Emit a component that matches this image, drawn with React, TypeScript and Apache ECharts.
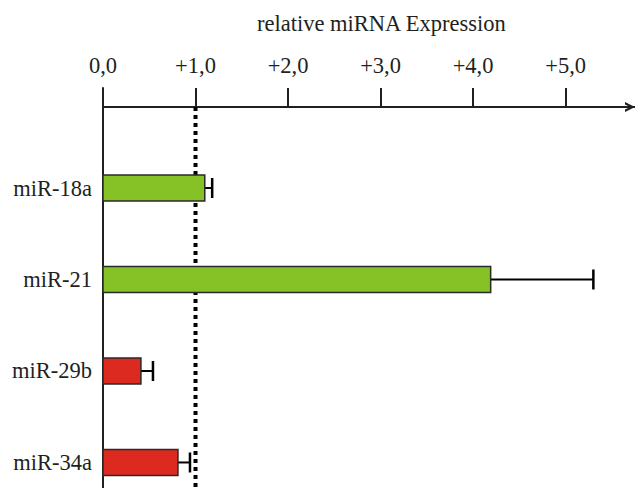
import React, { useEffect, useRef } from "react";
import * as echarts from "echarts";

const categories = ["miR-18a", "miR-21", "miR-29b", "miR-34a"];
const expression = [1.1, 4.19, 0.41, 0.81];
const errorUpper = [1.18, 5.3, 0.54, 0.94];
const barColors = ["#86c226", "#86c226", "#dc2a20", "#dc2a20"];
const xTicks = [0, 1, 2, 3, 4, 5];
const referenceValue = 1;
const titleText = "relative miRNA Expression";

const FONT = "'Liberation Serif', 'DejaVu Serif', serif";

export default function App() {
  const ref = useRef<HTMLDivElement>(null);
  useEffect(() => {
    document.body.style.margin = "0";
    const chart = echarts.init(ref.current!, null, { renderer: "svg" });
    const yMin = -1.093;
    const yMax = 3.279;
    const barData = categories.map((c, i) => [expression[i], i, errorUpper[i]]);
    chart.setOption({
      animation: false,
      title: {
        text: titleText,
        left: 252,
        top: 7,
        textStyle: { fontFamily: FONT, fontSize: 22.5, fontWeight: "normal", color: "#231f20" },
      },
      grid: { left: 103, right: 0, top: 88, bottom: 0 },
      xAxis: {
        type: "value",
        position: "top",
        offset: -19,
        min: 0,
        max: 5.75,
        axisLine: {
          onZero: false,
          lineStyle: { color: "#231f20", width: 2 },
          symbol: ["none", "path://M0,10 L5,0 L10,10 L7.4,10 L5,4.8 L2.6,10 Z"],
          symbolSize: [16, 10],
          symbolOffset: [0, -5],
        },
        axisTick: {
          show: true,
          customValues: xTicks,
          length: 19,
          lineStyle: { color: "#231f20", width: 2 },
        },
        axisLabel: {
          customValues: xTicks,
          margin: 30,
          fontFamily: FONT,
          fontSize: 22.5,
          color: "#231f20",
          formatter: (v: number) =>
            v === 0 ? "0,0" : "+" + v.toFixed(1).replace(".", ","),
        },
        splitLine: { show: false },
      },
      yAxis: {
        type: "value",
        inverse: true,
        min: yMin,
        max: yMax,
        axisLine: { show: true, onZero: false, lineStyle: { color: "#231f20", width: 2 } },
        axisTick: { show: false },
        axisLabel: {
          customValues: [0, 1, 2, 3],
          margin: 11,
          fontFamily: FONT,
          fontSize: 22.5,
          color: "#231f20",
          formatter: (v: number) => {
            const r = Math.round(v);
            return Math.abs(v - r) < 1e-6 && categories[r] ? categories[r] : "";
          },
        },
        splitLine: { show: false },
      },
      series: [
        {
          type: "line",
          data: [
            [referenceValue, -0.885],
            [referenceValue, yMax],
          ],
          symbol: "none",
          z: 1,
          lineStyle: { color: "#000", width: 4, type: [4, 4] },
        },
        {
          type: "custom",
          z: 3,
          data: barData,
          renderItem: (params: any, api: any) => {
            const v = api.value(0);
            const i = api.value(1);
            const e = api.value(2);
            const p0 = api.coord([0, i]);
            const p1 = api.coord([v, i]);
            const pe = api.coord([e, i]);
            const h = api.size([0, 0.284])[1];
            const color = barColors[params.dataIndex];
            return {
              type: "group",
              children: [
                {
                  type: "line",
                  shape: { x1: p1[0], y1: p1[1], x2: pe[0], y2: pe[1] },
                  style: { stroke: "#000", lineWidth: 2 },
                },
                {
                  type: "line",
                  shape: { x1: pe[0], y1: pe[1] - 10, x2: pe[0], y2: pe[1] + 10 },
                  style: { stroke: "#000", lineWidth: 2.5 },
                },
                {
                  type: "rect",
                  shape: { x: p0[0], y: p0[1] - h / 2, width: p1[0] - p0[0], height: h },
                  style: { fill: color, stroke: "#2a2a2a", lineWidth: 1.5 },
                },
              ],
            };
          },
        },
      ],
    });
    return () => chart.dispose();
  }, []);
  return <div ref={ref} style={{ width: 635, height: 488 }} />;
}
